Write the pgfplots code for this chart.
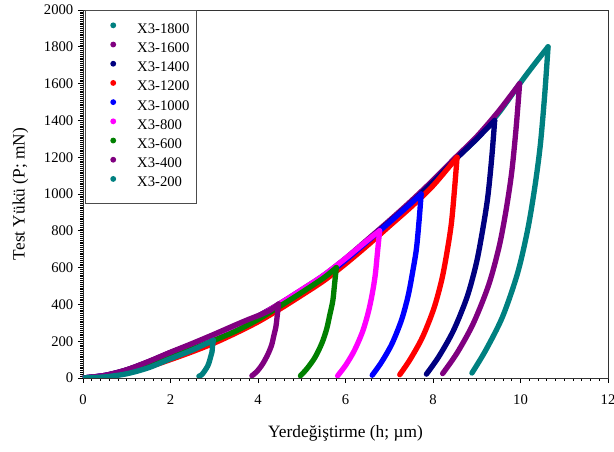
\documentclass[border=0pt]{standalone}
\usepackage{fontspec}
\setmainfont{Liberation Serif}
\usepackage{pgfplots}
\pgfplotsset{compat=1.18}
\definecolor{cteal}{RGB}{0,128,128}
\definecolor{cpurple}{RGB}{128,0,128}
\definecolor{cnavy}{RGB}{0,0,128}
\definecolor{cred}{RGB}{255,0,0}
\definecolor{cblue}{RGB}{0,0,255}
\definecolor{cmag}{RGB}{255,0,255}
\definecolor{cgreen}{RGB}{0,128,0}
\begin{document}
\begin{tikzpicture}
\useasboundingbox (-62.25pt,-55.5pt) rectangle (398.25pt,283.5pt);
\begin{axis}[
  anchor=south west, at={(0,0)},
  scale only axis,
  width=393.75pt, height=276pt,
  xmin=0, xmax=12, ymin=0, ymax=2000,
  xtick={0,2,...,12}, ytick={0,200,...,2000},
  minor x tick num=9, minor y tick num=19,
  tick align=outside, xtick pos=bottom, ytick pos=left,
  major tick length=3.75pt, minor tick length=2pt,
  tick style={black, line width=0.5pt},
  axis line style={black!80, line width=0.7pt},
  /pgf/number format/assume math mode=true,
  /pgf/number format/1000 sep={},
  ticklabel style={font=\fontsize{11}{13}\selectfont},
  xticklabel style={yshift=-5pt},
  xlabel={Yerdeğiştirme (h; µm)},
  ylabel={Test Yükü (P; mN)},
  label style={font=\fontsize{13}{15}\selectfont},
  xlabel style={at={(axis description cs:0.5,0)}, anchor=center, yshift=-41.5pt},
  ylabel style={at={(axis description cs:-0.119,0.5)}, anchor=center},
  legend cell align=left,
  legend style={at={(0.004,1)}, anchor=north west, draw=black!70, line width=0.6pt,
    font=\fontsize{11}{13}\selectfont, inner xsep=3pt, inner ysep=7.5pt,
    nodes={inner ysep=2.2pt, text height=7.5pt, text depth=2.5pt}, row sep=0pt},
  legend image code/.code={\path[draw=none] (0pt,0pt) -- (33.8pt,0pt); \fill[#1, draw=none] (17.8pt,3.5pt) circle (2.2pt);},
  every axis plot/.append style={line width=4pt, line join=round, line cap=round},
]
\addplot[cteal, smooth] coordinates {(0,0)(0.5,12)(1,38)(1.5,75)(2,120)(2.5,163)(3,208)(3.5,262)(4,325)(4.5,395)(5,470)(5.5,548)(6,640)(6.5,742)(7,845)(7.5,950)(8,1062)(8.5,1188)(9,1300)(9.5,1440)(10,1605)(10.3,1700)(10.63,1800)};
\addlegendentry{X3-1800}
\addplot[cteal, smooth, forget plot] coordinates {(10.63,1800)(10.55,1530)(10.45,1260)(10.32,1026)(10.16,801)(9.93,567)(9.59,333)(9.21,153)(8.89,27)};
\addplot[cpurple, smooth] coordinates {(0,0)(0.5,14)(1,44)(1.5,88)(2,138)(2.5,182)(3,228)(3.5,278)(4,337)(4.5,405)(5,480)(5.5,558)(6,650)(6.5,752)(7,855)(7.5,962)(8,1075)(8.5,1195)(9,1312)(9.5,1450)(9.98,1600)};
\addlegendentry{X3-1600}
\addplot[cpurple, smooth, forget plot] coordinates {(9.98,1600)(9.90,1360)(9.80,1120)(9.67,912)(9.51,712)(9.27,504)(8.92,296)(8.55,136)(8.22,24)};
\addplot[cnavy, smooth] coordinates {(0,0)(0.5,14)(1,44)(1.5,88)(2,138)(2.5,182)(3,228)(3.5,278)(4,335)(4.5,400)(5,475)(5.5,552)(6,645)(6.5,745)(7,848)(7.5,952)(8,1065)(8.5,1185)(9,1300)(9.41,1400)};
\addlegendentry{X3-1400}
\addplot[cnavy, smooth, forget plot] coordinates {(9.41,1400)(9.34,1190)(9.25,980)(9.13,798)(8.99,623)(8.78,441)(8.47,259)(8.14,119)(7.85,21)};
\addplot[cred, smooth] coordinates {(0,0)(0.5,8)(1,27)(1.5,60)(2,100)(2.5,143)(3,190)(3.5,245)(4,305)(4.5,375)(5,450)(5.5,528)(6,620)(6.5,720)(7,825)(7.5,930)(8,1045)(8.55,1200)};
\addlegendentry{X3-1200}
\addplot[cred, smooth, forget plot] coordinates {(8.55,1200)(8.49,1020)(8.42,840)(8.32,684)(8.20,534)(8.02,378)(7.76,222)(7.48,102)(7.24,18)};
\addplot[cblue, smooth] coordinates {(0,0)(0.5,12)(1,37)(1.5,75)(2,120)(2.5,165)(3,212)(3.5,264)(4,325)(4.5,395)(5,470)(5.5,548)(6,640)(6.5,742)(7,845)(7.5,950)(7.73,1000)};
\addlegendentry{X3-1000}
\addplot[cblue, smooth, forget plot] coordinates {(7.73,1000)(7.68,850)(7.62,700)(7.53,570)(7.43,445)(7.28,315)(7.06,185)(6.82,85)(6.61,15)};
\addplot[cmag, smooth] coordinates {(0,0)(0.5,12)(1,37)(1.5,77)(2,122)(2.5,166)(3,214)(3.5,268)(4,332)(4.5,404)(5,480)(5.5,558)(6,650)(6.5,748)(6.78,800)};
\addlegendentry{X3-800}
\addplot[cmag, smooth, forget plot] coordinates {(6.78,800)(6.73,680)(6.68,560)(6.61,456)(6.52,356)(6.39,252)(6.20,148)(6.00,68)(5.82,12)};
\addplot[cgreen, smooth] coordinates {(0,0)(0.5,10)(1,31)(1.5,68)(2,112)(2.5,158)(3,205)(3.5,256)(4,318)(4.5,390)(5,465)(5.5,544)(5.79,600)};
\addlegendentry{X3-600}
\addplot[cgreen, smooth, forget plot] coordinates {(5.79,600)(5.75,510)(5.71,420)(5.64,342)(5.57,267)(5.46,189)(5.30,111)(5.12,51)(4.97,12)};
\addplot[cpurple, smooth] coordinates {(0,0)(0.5,14)(1,45)(1.5,90)(2,140)(2.5,188)(3,238)(3.5,290)(3.8,320)(4.1,348)(4.3,372)(4.47,402)};
\addlegendentry{X3-400}
\addplot[cpurple, smooth, forget plot] coordinates {(4.47,402)(4.44,340)(4.41,280)(4.36,228)(4.31,178)(4.22,126)(4.10,74)(3.97,34)(3.86,12)};
\addplot[cteal, smooth] coordinates {(0,0)(0.5,6)(1,23)(1.5,56)(2,105)(2.5,152)(2.98,205)};
\addlegendentry{X3-200}
\addplot[cteal, smooth, forget plot] coordinates {(2.98,205)(2.96,174)(2.95,144)(2.92,117)(2.89,91)(2.85,65)(2.78,38)(2.71,17)(2.65,10)};
\end{axis}
\end{tikzpicture}
\end{document}
